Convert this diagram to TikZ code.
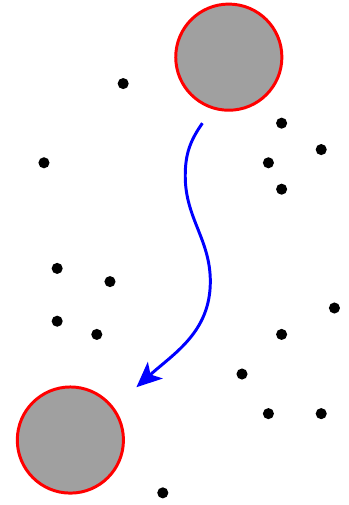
\documentclass[tikz,border=0pt]{standalone}
\usepackage{xcolor}
\usepackage{tikz}
\usetikzlibrary{arrows.meta}
\definecolor{ballG}{RGB}{160,160,160}
\definecolor{ballR}{RGB}{255,0,0}
\definecolor{pathB}{RGB}{0,0,255}
\tikzset{ball/.style={circle, draw=ballR, fill=ballG, line width=1.6pt, inner sep=0pt, minimum size=2.01cm}}

\begin{document}
\begin{tikzpicture}[x=0.25cm, y=0.25cm]
\useasboundingbox (-0.33,0.08) rectangle (26.04,38.33);
% ====== the two balls ======
\node[ball] (upper) at (17,34) {};
\node[ball] (lower) at (5,5) {};
% ====== scattered points ======
\foreach \x/\y in {9/32, 3/26, 21/29, 24/27, 20/26, 21/24, 4/18, 8/17, 4/14, 7/13,
  25/15, 21/13, 18/10, 20/7, 24/7, 12/1}
  \fill (\x,\y) circle (0.42);
% ====== wavy path from upper ball down to lower ball ======
\coordinate (from) at (15,29);
\coordinate (to) at (10,9);
\draw[pathB, line width=1.6pt, -{Stealth[length=4.8mm, width=4.2mm, inset=1.2mm]}]
  (from) to[out=-125, in=90] (13.7,25) to[out=-90, in=90] (15.6,17) to[out=-90, in=42] (to);
\end{tikzpicture}
\end{document}
